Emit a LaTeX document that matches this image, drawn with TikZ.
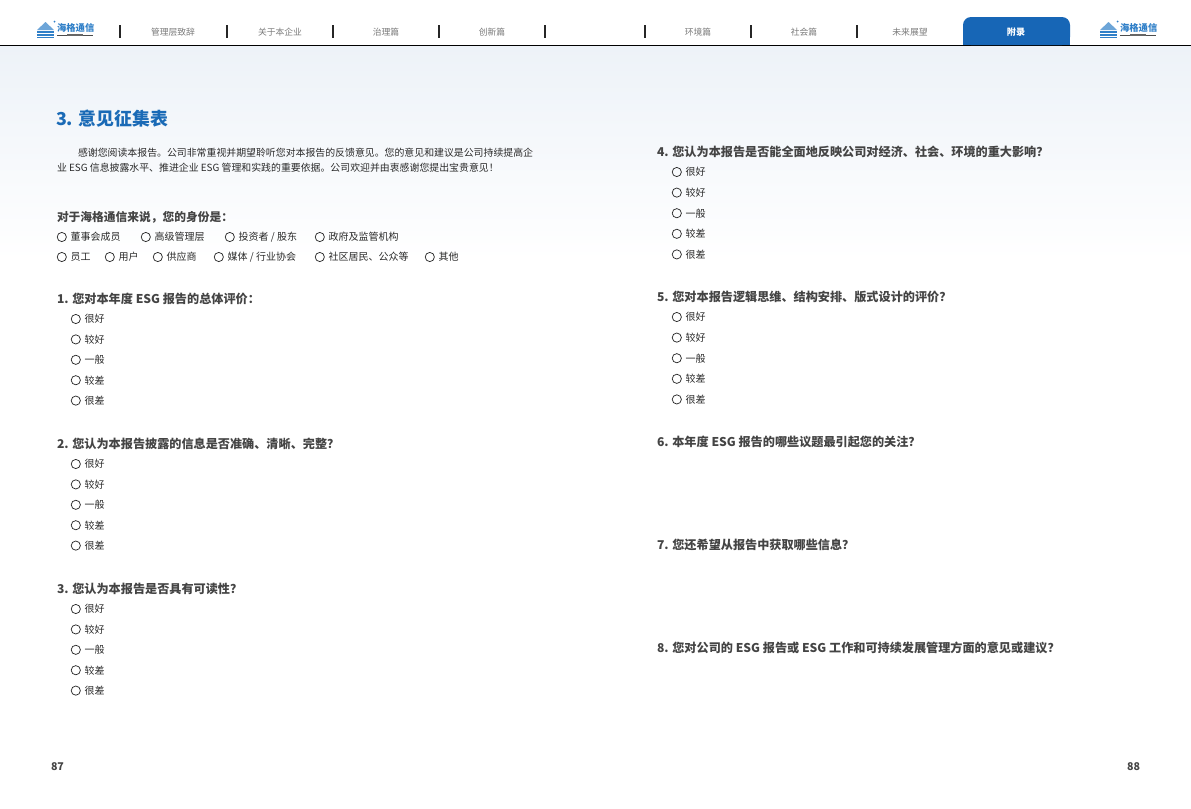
\documentclass[tikz,border=0pt]{standalone}
\usepackage{fontspec}
\setmainfont{Noto Sans CJK SC}
\definecolor{tblue}{HTML}{1A6AB6}
\definecolor{tabblue}{HTML}{1766B6}
\definecolor{qgray}{HTML}{444444}
\definecolor{ogray}{HTML}{2A2A2A}
\definecolor{hgray}{HTML}{7A7A7A}
\definecolor{bgtop}{HTML}{EDF2F8}
\definecolor{logoblue}{HTML}{2F7FC8}
\tikzset{
  every node/.style={inner sep=0pt, outer sep=0pt},
  navlabel/.style={font=\fontsize{6.6pt}{7pt}\selectfont, text=hgray},
  navsep/.style={draw=black!85, line width=0.9pt},
  question/.style={anchor=west, font=\bfseries\fontsize{9.1pt}{10pt}\selectfont, text=qgray},
  option/.style={anchor=west, font=\fontsize{7.5pt}{8pt}\selectfont, text=ogray},
  radio/.style={circle, draw=ogray, line width=0.55pt, minimum size=6.9pt},
  intro/.style={anchor=west, font=\fontsize{7.42pt}{8pt}\selectfont, text=ogray},
  logotext/.style={anchor=west, font=\bfseries\fontsize{7pt}{7pt}\selectfont, text=logoblue},
}
\newcommand{\logoat}[3]{% name, x, y (top-left of icon)
  \begin{scope}[shift={(#2,#3)}]
    \fill[logoblue!70] (1,9) -- (9.5,1) -- (18,9) -- cycle;
    \fill[logoblue] (1,10) rectangle (18,11.6);
    \fill[logoblue] (1,13) rectangle (18,14.6);
    \fill[logoblue] (1,16) rectangle (18,17.4);
    \fill[logoblue] (18.5,0.5) circle (1);
    \node[logotext] (#1) at (21,6.5) {海格通信};
    \draw[black!70, line width=0.4pt] (21,14) -- (57,14);
    \fill[black!60] (31,13) rectangle (47,15);
  \end{scope}
}
% name, x of circle centre, y, text
\newcommand{\choice}[4]{%
  \node[radio] (#1c) at ({#2},{#3}) {};
  \node[option] (#1) at ([xshift=3.2pt]#1c.east) {#4};
}
\begin{document}
\begin{tikzpicture}[x=0.75pt, y=-0.75pt]
\useasboundingbox (0,0) rectangle (1191,808);
\fill[white] (0,0) rectangle (1191,808);
% background gradient
\shade[top color=bgtop, bottom color=white] (0,46) rectangle (1191,260);
% header
\logoat{logoL}{36}{21}
\logoat{logoR}{1099}{21}
\draw[black, line width=1pt] (0,45.5) -- (1191,45.5);
\foreach \x [count=\i] in {120,227,333,439,545,645,751,857}
  \draw[navsep] (\x,25) -- (\x,38);
\node[navlabel] (n1) at (173,32) {管理层致辞};
\node[navlabel] (n2) at (280,32) {关于本企业};
\node[navlabel] (n3) at (386,32) {治理篇};
\node[navlabel] (n4) at (492,32) {创新篇};
\node[navlabel] (n5) at (698,32) {环境篇};
\node[navlabel] (n6) at (804,32) {社会篇};
\node[navlabel] (n7) at (910,32) {未来展望};
\fill[tabblue, rounded corners=6pt] (963,45) -- (963,17) -- (1070,17) -- (1070,45) -- cycle;
\fill[tabblue] (963,36) rectangle (1070,45);
\node[navlabel, text=white, font=\bfseries\fontsize{6.8pt}{7pt}\selectfont] (n8) at (1016,32.5) {附录};
% title
\node[anchor=west, font=\bfseries\fontsize{13.4pt}{14pt}\selectfont, text=tblue] (title) at (56,119) {3. 意见征集表};
% intro
\node[intro] (intro1) at (78,153) {感谢您阅读本报告。公司非常重视并期望聆听您对本报告的反馈意见。您的意见和建议是公司持续提高企};
\node[intro] (intro2) at (57,168) {业 ESG 信息披露水平、推进企业 ESG 管理和实践的重要依据。公司欢迎并由衷感谢您提出宝贵意见！};
% identity
\node[question, font=\bfseries\fontsize{8.8pt}{10pt}\selectfont] (qid) at (57,217) {对于海格通信来说，您的身份是：};
\choice{id1}{61.8}{237}{董事会成员}
\choice{id2}{145.8}{237}{高级管理层}
\choice{id3}{229.8}{237}{投资者 / 股东}
\choice{id4}{319.8}{237}{政府及监管机构}
\choice{id5}{61.8}{257}{员工}
\choice{id6}{109.8}{257}{用户}
\choice{id7}{157.8}{257}{供应商}
\choice{id8}{218.8}{257}{媒体 / 行业协会}
\choice{id9}{319.8}{257}{社区居民、公众等}
\choice{id10}{429.8}{257}{其他}
% left questions
\node[question] (q1) at (57,299) {1. 您对本年度 ESG 报告的总体评价：};
\node[question] (q2) at (57,444) {2. 您认为本报告披露的信息是否准确、清晰、完整？};
\node[question] (q3) at (57,589) {3. 您认为本报告是否具有可读性？};
\foreach \q/\y in {1/319,2/464,3/609}
  \foreach \t [count=\i] in {很好,较好,一般,较差,很差}
    {\choice{q\q o\i}{75.8}{\y+(\i-1)*20.4}{\t}}
% right questions
\node[question] (q4) at (657,152) {4. 您认为本报告是否能全面地反映公司对经济、社会、环境的重大影响？};
\node[question] (q5) at (657,297) {5. 您对本报告逻辑思维、结构安排、版式设计的评价？};
\node[question] (q6) at (657,442) {6. 本年度 ESG 报告的哪些议题最引起您的关注？};
\node[question] (q7) at (657,545) {7. 您还希望从报告中获取哪些信息？};
\node[question] (q8) at (657,648) {8. 您对公司的 ESG 报告或 ESG 工作和可持续发展管理方面的意见或建议？};
\foreach \q/\y in {4/172,5/317}
  \foreach \t [count=\i] in {很好,较好,一般,较差,很差}
    {\choice{q\q o\i}{676.8}{\y+(\i-1)*20.6}{\t}}
% page numbers
\node[anchor=west, font=\bfseries\fontsize{8pt}{9pt}\selectfont, text=qgray] (p87) at (51,767) {87};
\node[anchor=west, font=\bfseries\fontsize{8pt}{9pt}\selectfont, text=qgray] (p88) at (1127,767) {88};
\end{tikzpicture}
\end{document}
